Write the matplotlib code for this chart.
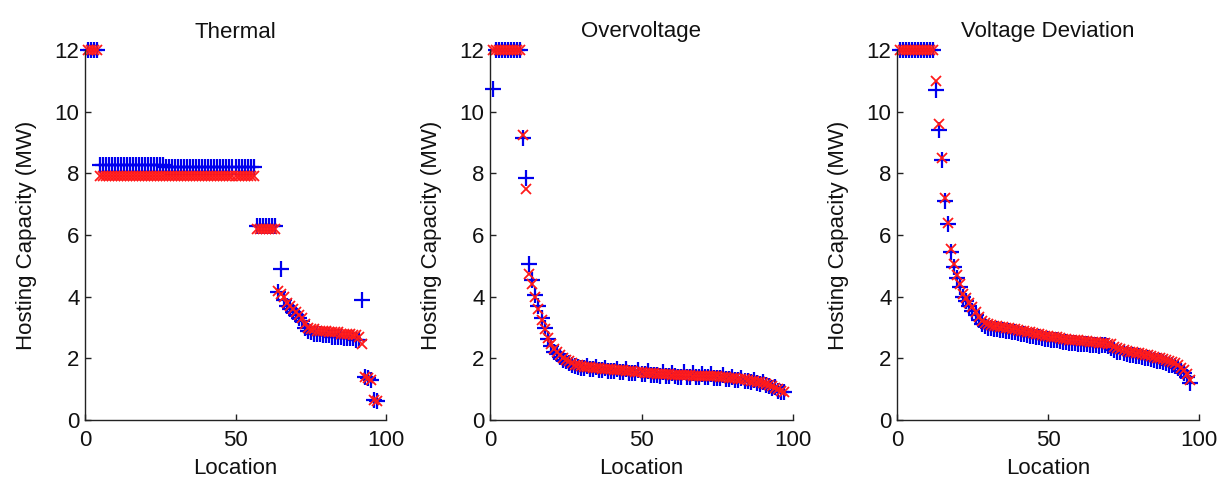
import matplotlib
matplotlib.use("Agg")
import matplotlib.pyplot as plt

plt.rcParams['font.family'] = ['Liberation Sans', 'DejaVu Sans']

locations = list(range(1, 98))

titles = ["Thermal", "Overvoltage", "Voltage Deviation"]
x_ticks = [0, 50, 100]
y_ticks = [0, 2, 4, 6, 8, 10, 12]

thermal_red = ([12.0] * 4 + [7.92] * 52 + [6.2] * 7 +
               [4.2, 4.1, 4.0, 3.8, 3.7, 3.6, 3.5, 3.4, 3.3, 3.1, 3.0, 2.95, 2.95, 2.9,
                2.9, 2.9, 2.9, 2.85, 2.85, 2.85, 2.85, 2.8, 2.8, 2.8, 2.8, 2.75, 2.75, 2.7] +
               [2.45] + [1.4, 1.35, 1.3] + [0.65, 0.62])
thermal_blue = ([12.0] * 4 + [8.27] * 22 + [8.22] * 30 + [6.3] * 7 +
                [4.15, 4.9, 3.9, 3.7, 3.6, 3.5, 3.4, 3.3, 3.2, 3.0, 2.9, 2.85, 2.8, 2.8,
                 2.8, 2.75, 2.75, 2.75, 2.7, 2.7, 2.7, 2.7, 2.65, 2.65, 2.65, 2.65, 2.6, 2.6] +
                [3.9] + [1.4, 1.35, 1.3] + [0.65, 0.62])

overvolt_red = ([12.0] * 10 +
                [9.25, 7.5, 4.75, 4.4, 4.0, 3.6, 3.25, 2.95, 2.65, 2.45, 2.3, 2.2, 2.1, 2.0,
                 1.95, 1.9, 1.85, 1.8, 1.78, 1.75,
                 1.73, 1.72, 1.71, 1.70, 1.69, 1.68, 1.67, 1.66, 1.65, 1.64,
                 1.63, 1.62, 1.61, 1.61, 1.60, 1.59, 1.58, 1.57, 1.56, 1.55,
                 1.54, 1.53, 1.52, 1.51, 1.50,
                 1.49, 1.49, 1.48, 1.48, 1.47, 1.47, 1.46, 1.46, 1.45, 1.45,
                 1.45, 1.44, 1.44, 1.44, 1.43, 1.43, 1.43, 1.42, 1.42, 1.42,
                 1.40, 1.39, 1.38, 1.37, 1.36, 1.35, 1.34, 1.33, 1.32, 1.30,
                 1.28, 1.26, 1.24, 1.22, 1.20, 1.18, 1.15,
                 1.10, 1.05, 1.00, 0.95, 0.90])
overvolt_blue = ([10.75] + [12.0] * 9 +
                 [9.15, 7.85, 5.05, 4.55, 4.05, 3.7, 3.3, 2.98, 2.62, 2.4, 2.2, 2.15, 2.05, 1.95,
                  1.9, 1.85, 1.8, 1.75, 1.72, 1.7,
                  1.68, 1.75, 1.66, 1.65, 1.72, 1.63, 1.62, 1.70, 1.60, 1.59,
                  1.58, 1.66, 1.56, 1.56, 1.64, 1.54, 1.53, 1.52, 1.62, 1.50,
                  1.49, 1.58, 1.47, 1.46, 1.45,
                  1.44, 1.55, 1.43, 1.43, 1.52, 1.42, 1.41, 1.41, 1.55, 1.40,
                  1.40, 1.52, 1.39, 1.39, 1.50, 1.38, 1.38, 1.48, 1.37, 1.37,
                  1.35, 1.45, 1.33, 1.32, 1.40, 1.30, 1.29, 1.35, 1.27, 1.25,
                  1.23, 1.30, 1.19, 1.17, 1.22, 1.13, 1.10,
                  1.05, 1.08, 0.95, 0.90, 0.92])

voltdev_red = ([12.0] * 12 +
               [11.0, 9.6, 8.5, 7.2, 6.4, 5.55, 5.05, 4.7, 4.4, 4.1, 3.95, 3.8, 3.65, 3.5,
                3.35, 3.2, 3.15, 3.1, 3.07, 3.05, 3.04, 3.03, 3.02, 3.0, 2.98, 2.96, 2.94,
                2.92, 2.9, 2.88, 2.86, 2.84, 2.82, 2.8, 2.78, 2.76, 2.74, 2.72, 2.7, 2.69,
                2.68, 2.66, 2.64, 2.62, 2.61, 2.6, 2.59, 2.58, 2.57, 2.56, 2.55, 2.54,
                2.53, 2.52, 2.51, 2.5, 2.5, 2.48, 2.45, 2.38, 2.32, 2.3, 2.28, 2.25, 2.22, 2.2,
                2.18, 2.16, 2.14, 2.12, 2.1, 2.08, 2.05, 2.02, 2.0, 1.97, 1.94, 1.9, 1.87, 1.84,
                1.78, 1.7, 1.62, 1.5, 1.3])
voltdev_blue = ([12.0] * 12 +
                [10.7, 9.42, 8.43, 7.1, 6.35, 5.45, 4.95, 4.6, 4.3, 4.0, 3.85, 3.7, 3.55, 3.4,
                 3.25, 3.1, 3.05, 3.0, 2.97, 2.95, 2.94, 2.93, 2.92, 2.9, 2.88, 2.86, 2.84,
                 2.82, 2.8, 2.78, 2.76, 2.74, 2.72, 2.7, 2.68, 2.66, 2.64, 2.62, 2.6, 2.59,
                 2.58, 2.56, 2.54, 2.52, 2.51, 2.5, 2.49, 2.48, 2.47, 2.46, 2.45, 2.44,
                 2.43, 2.42, 2.41, 2.42, 2.42, 2.4, 2.35, 2.28, 2.22, 2.2, 2.18, 2.15, 2.12, 2.1,
                 2.08, 2.06, 2.04, 2.02, 2.0, 1.98, 1.95, 1.92, 1.9, 1.87, 1.84, 1.8, 1.77, 1.74,
                 1.68, 1.6, 1.52, 1.4, 1.2])

blue_series = [thermal_blue, overvolt_blue, voltdev_blue]
red_series = [thermal_red, overvolt_red, voltdev_red]

W, H = 1223, 487
fig = plt.figure(figsize=(W / 100, H / 100), dpi=100)

lefts = [85, 490, 897]
widths = [301, 303, 302]
bottom_px = 420
top_px = 50

for i in range(3):
    ax = fig.add_axes([lefts[i] / W, (H - bottom_px) / H, widths[i] / W,
                       (bottom_px - top_px) / H])
    ax.plot(locations, blue_series[i], linestyle='none', marker='+', color='#0000ee',
            markersize=11, markeredgewidth=1.6)
    ax.plot(locations, red_series[i], linestyle='none', marker='x', color='#ff1a1a',
            markersize=6.5, markeredgewidth=1.3)
    ax.set_xlim(0, 100)
    ax.set_ylim(0, 12)
    ax.set_xticks(x_ticks)
    ax.set_yticks(y_ticks)
    for s in ['top', 'right']:
        ax.spines[s].set_visible(False)
    for s in ['left', 'bottom']:
        ax.spines[s].set_linewidth(1.0)
        ax.spines[s].set_color('#222222')
    ax.tick_params(axis='both', direction='in', length=4, width=1, labelsize=16,
                   colors='#222222', labelcolor='#111111')
    ax.tick_params(axis='x', pad=7)
    ax.tick_params(axis='y', pad=4)
    ax.set_title(titles[i], fontsize=16, pad=9, color='#111111')
    ax.set_xlabel('Location', fontsize=16, labelpad=5, color='#111111')
    ax.set_ylabel('Hosting Capacity (MW)', fontsize=16, labelpad=13, color='#111111')
    for line in ax.get_lines():
        line.set_clip_on(False)

fig.savefig('out.png', dpi=100)
